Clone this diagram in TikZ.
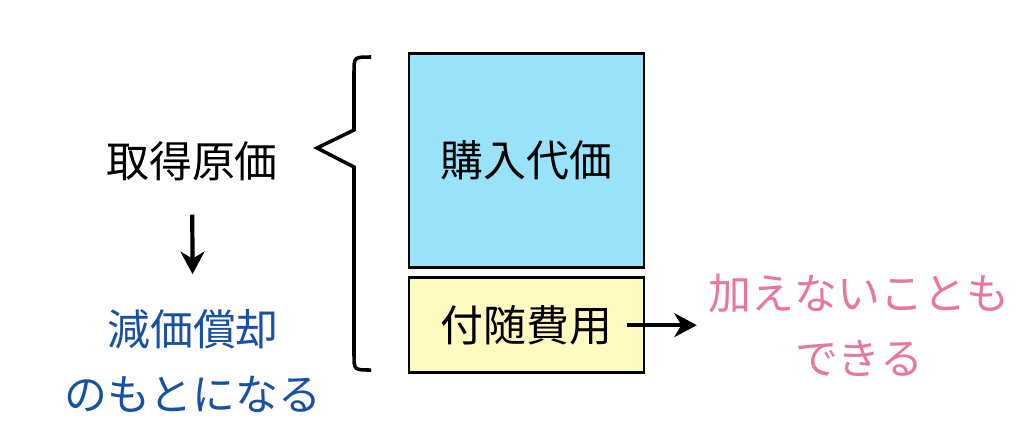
\documentclass[tikz,border=0pt]{standalone}
\usepackage{fontspec}
\newfontfamily\jp{Noto Sans CJK JP}
\usepackage{tikz}
\usetikzlibrary{arrows.meta,positioning}
\definecolor{kounyublue}{RGB}{153,227,250}
\definecolor{fuzuiyellow}{RGB}{255,251,192}
\definecolor{genkablue}{RGB}{25,80,165}
\definecolor{notepink}{RGB}{232,118,158}
\tikzset{
    costbox/.style={
    rectangle,draw=black,line width=1.8pt,minimum width=5.875cm,inner sep=0pt,
    font=\jp\fontsize{30.5}{46}\selectfont
    },
    wordtxt/.style={
    font=\jp\fontsize{30.5}{46}\selectfont,align=center,inner sep=2pt
    },
    bigarrow/.style={
    -{Stealth[length=16pt,width=17pt,inset=5pt]},line width=3pt
    },
    braceline/.style={
    line width=2.5pt,miter limit=20
    },
}
\begin{document}
\begin{tikzpicture}[x=0.025cm,y=-0.025cm]
   \useasboundingbox (0,0) rectangle (1024,436);
   \node[costbox,fill=kounyublue,minimum height=5.35cm] (kounyu) at (526.5,160.5) {購入代価};
   \node[costbox,fill=fuzuiyellow,minimum height=2.375cm] (fuzui) [below=0.19cm of kounyu] {};
   \node[wordtxt] (fuzuitxt) at (fuzui) {付随費用};

   \node[wordtxt] (cost) at (192,161) {取得原価};
   \node[wordtxt,text=genkablue] (genka) at (193,361) {減価償却\\のもとになる};
   \node[wordtxt,text=notepink] (note) at (859,325) {加えないことも\\できる};

   \draw[braceline] (371,57) .. controls (354,57) .. (354,72) -- (354,130) -- (317,148)
      -- (354,167) -- (354,355) .. controls (354,370) .. (371,370);

   \draw[bigarrow,shorten <=22pt,shorten >=23pt] (cost) -- (genka);
   \draw[bigarrow,shorten <=8.5pt,shorten >=6.4pt] (fuzuitxt.east) -- (fuzuitxt.east -| note.west);
\end{tikzpicture}
\end{document}
